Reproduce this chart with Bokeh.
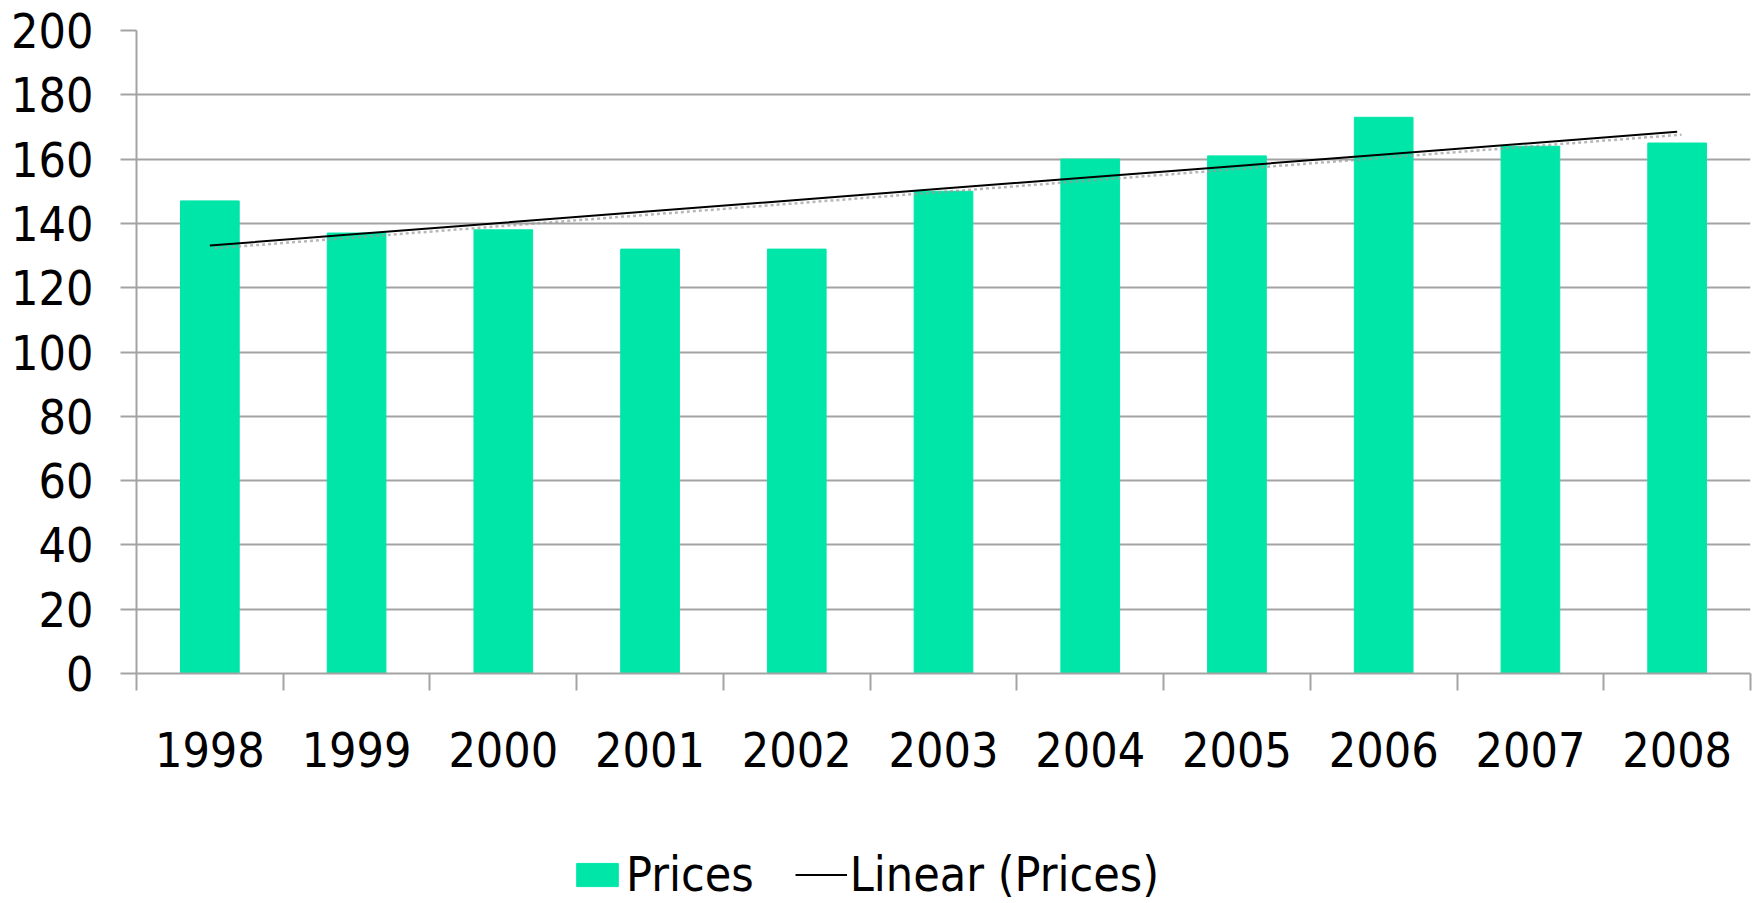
import numpy as np
from bokeh.plotting import figure
from bokeh.layouts import column
from bokeh.models import Range1d, FixedTicker, Legend, LegendItem, ColumnDataSource
from bokeh.embed import file_html
from bokeh.resources import INLINE

# ---- data ----
years = ["1998", "1999", "2000", "2001", "2002", "2003", "2004", "2005", "2006", "2007", "2008"]
prices = [147, 137, 138, 132, 132, 150, 160, 161, 173, 164, 165]
y_ticks = [0, 20, 40, 60, 80, 100, 120, 140, 160, 180, 200]

FONT = "DejaVu Sans Condensed"
GREEN = "#00E6A9"
GRID = "#A3A3A3"

x = np.arange(1, len(years) + 1)
coef = np.polyfit(x, prices, 1)
trend = np.polyval(coef, x)

src = ColumnDataSource(dict(x=x, top=prices, trend=trend))

p = figure(width=1755, height=830, output_backend="svg", toolbar_location=None,
           x_range=Range1d(0.5, len(years) + 0.5), y_range=Range1d(0, 200),
           min_border_left=136, min_border_right=5, min_border_top=30,
           min_border_bottom=157)
p.outline_line_color = None
p.background_fill_color = "white"
p.border_fill_color = "white"

bars = p.vbar(x="x", top="top", width=0.40, source=src, fill_color=GREEN,
              line_color=GREEN, line_width=1)

# shadow of the trend line
p.line(x + 0.03, trend - 0.9, line_color="#9a9a9a", line_width=2.5,
       line_dash="3 3", line_alpha=0.7)
tl = p.line("x", "trend", source=src, line_color="black", line_width=2)

# axes
yax = p.yaxis[0]
yax.ticker = FixedTicker(ticks=y_ticks)
yax.major_tick_out = 16
yax.major_tick_in = 0
yax.minor_tick_out = 0
yax.minor_tick_in = 0
yax.major_tick_line_color = GRID
yax.major_tick_line_width = 2
yax.axis_line_color = GRID
yax.axis_line_width = 2
yax.major_label_standoff = 27
yax.major_label_text_font = FONT
yax.major_label_text_font_size = "48px"
yax.major_label_text_color = "black"

xax = p.xaxis[0]
xax.ticker = FixedTicker(ticks=list(x), minor_ticks=list(np.arange(0.5, len(years) + 1, 1.0)))
xax.major_label_overrides = {int(i): yr for i, yr in zip(x, years)}
xax.major_tick_out = 0
xax.major_tick_in = 0
xax.minor_tick_out = 17
xax.minor_tick_in = 0
xax.minor_tick_line_color = GRID
xax.minor_tick_line_width = 2
xax.axis_line_color = GRID
xax.axis_line_width = 2
xax.major_label_standoff = 41
xax.major_label_text_font = FONT
xax.major_label_text_font_size = "48px"
xax.major_label_text_color = "black"

p.xgrid.visible = False
p.ygrid.ticker = FixedTicker(ticks=y_ticks)
p.ygrid.grid_line_color = GRID
p.ygrid.grid_line_width = 2

# ---- legend strip below the chart ----
# same series drawn again, but the strip's y range lies above all values,
# so only their legend glyphs show
lf = figure(width=1755, height=73, output_backend="svg", toolbar_location=None,
            x_range=Range1d(0.5, len(years) + 0.5), y_range=Range1d(300, 301),
            x_axis_type=None, y_axis_type=None,
            min_border_left=0, min_border_right=0, min_border_top=0, min_border_bottom=0)
lf.outline_line_color = None
lf.grid.visible = False
lf.background_fill_color = "white"
lf.border_fill_color = "white"
lg_bar = lf.vbar(x="x", top="top", width=0.4, source=src, fill_color=GREEN, line_color=GREEN)
lg_line = lf.line("x", "trend", source=src, line_color="black", line_width=2)

legend = Legend(items=[LegendItem(label="Prices", renderers=[lg_bar]),
                       LegendItem(label="Linear (Prices)", renderers=[lg_line])],
                orientation="horizontal", location=(435, 1),
                glyph_width=52, glyph_height=29, label_standoff=3, spacing=41,
                padding=0, margin=0, border_line_color=None,
                background_fill_alpha=0,
                label_text_font=FONT, label_text_font_size="48px",
                label_text_color="black")
lf.add_layout(legend, "center")

layout = column(p, lf, spacing=0)
open("out.html", "w").write(file_html(layout, INLINE))
